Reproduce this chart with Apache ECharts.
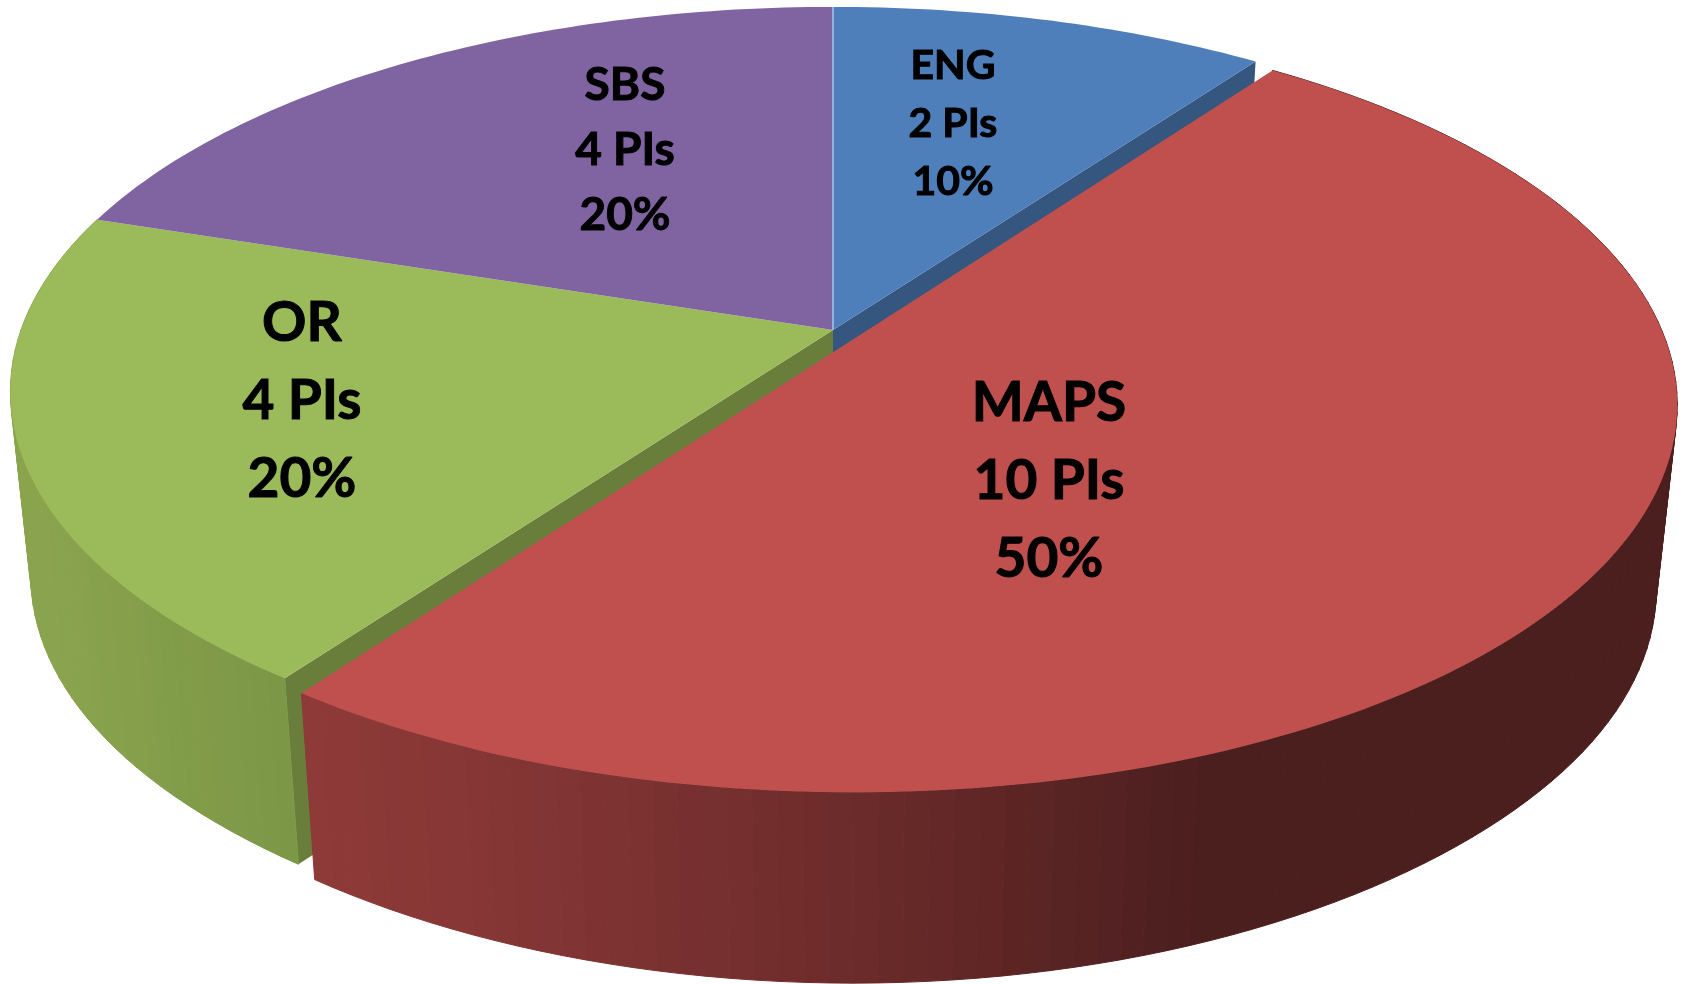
<!DOCTYPE html>
<html>
<head>
<meta charset="utf-8">
<title>PIs by directorate</title>
<style>
  html, body { margin: 0; padding: 0; background: #fff; }
  #pieId { width: 1686px; height: 984px; }
</style>
<script src="https://cdn.jsdelivr.net/npm/echarts@6/dist/echarts.min.js"></script>
</head>
<body>
<div id="pieId"></div>
<script>
// data, clockwise from twelve o'clock
var categories = ["ENG", "MAPS", "OR", "SBS"];
var piCounts = [2, 10, 4, 4];
var sharePct = [10, 50, 20, 20];

// look of each slice
var topColors = ["#4f7fba", "#bf504d", "#9bba59", "#8064a1"];
var explodeU = [0, 0.021, 0, 0];
var explodeV = [0, 0.03, 0, 0];
var labelFont = [41, 55, 55, 46];
var labelLine = [58, 78, 78, 65];
var labelAt = [[953, 124], [1049, 481], [302, 401], [625, 150]];

// perspective of the pie disc, fitted to the picture
var CX = 833, CY = 330, RX = 812, RY = 322, K = -0.16;
var DEPTH = 185, BOTTOM_SCALE = 0.975;
var total = piCounts.reduce(function (a, b) { return a + b; }, 0);

function topPoint(deg, du, dv) {
  var r = deg * Math.PI / 180;
  var u = Math.sin(r) + du, v = -Math.cos(r) + dv;
  var d = 1 + K * v;
  return [CX + RX * u / d, (CY + RY * v) / d];
}
function bottomPoint(p) {
  // wall gets a little taller toward the viewer
  var near = Math.max(0, p[1] - 600);
  return [CX + BOTTOM_SCALE * (p[0] - CX), p[1] + DEPTH + near * near * 0.00016];
}
function hex(c) {
  return [1, 3, 5].map(function (i) { return parseInt(c.substr(i, 2), 16); });
}
// colour of the side wall by screen x
function rampColor(stops, x) {
  if (x <= stops[0][0]) return stops[0][1];
  for (var i = 1; i < stops.length; i++) {
    if (x <= stops[i][0]) {
      var t = (x - stops[i - 1][0]) / (stops[i][0] - stops[i - 1][0]);
      var a = hex(stops[i - 1][1]), b = hex(stops[i][1]);
      return "rgb(" + a.map(function (n, j) { return Math.round(n + (b[j] - n) * t); }).join(",") + ")";
    }
  }
  return stops[stops.length - 1][1];
}
var wallRamps = [
  null,
  [[300, "#8f3a38"], [500, "#843635"], [800, "#702d2c"], [1000, "#5e2625"], [1200, "#4c1f1f"]],
  [[30, "#8aa44e"], [290, "#7b9646"]],
  null
];
var cutWalls = [{ at: "end", color: "#34567f" }, null, { at: "start", color: "#6a7e3c" }, null];

function renderSlice(params, api) {
  var i = params.dataIndex;
  var before = 0;
  for (var n = 0; n < i; n++) before += piCounts[n];
  var start = before / total * 360;
  var end = (before + api.value(1)) / total * 360;
  var du = explodeU[i], dv = explodeV[i];
  var children = [];

  // cut face seen behind the exploded slice
  var cut = cutWalls[i];
  if (cut) {
    var apex = [CX, CY];
    var rim = topPoint(cut.at === "end" ? end : start, du, dv);
    children.push({
      type: "polygon",
      z2: 1,
      shape: { points: [apex, rim, bottomPoint(rim), bottomPoint(apex)] },
      style: { fill: cut.color }
    });
  }

  // outer wall as thin strips so the silhouette stays closed
  var ramp = wallRamps[i];
  if (ramp) {
    for (var a = start; a < end; a += 1.5) {
      var p0 = topPoint(a, du, dv), p1 = topPoint(Math.min(a + 1.5, end), du, dv);
      var col = rampColor(ramp, (p0[0] + p1[0]) / 2);
      children.push({
        type: "polygon",
        z2: 2 + i,
        shape: { points: [p0, p1, bottomPoint(p1), bottomPoint(p0)] },
        style: { fill: col, stroke: col, lineWidth: 1 }
      });
    }
  }

  // top face
  var pts = [[CX + RX * du / (1 + K * dv), (CY + RY * dv) / (1 + K * dv)]];
  for (var b = start; b < end; b += 1) pts.push(topPoint(b, du, dv));
  pts.push(topPoint(end, du, dv));
  children.push({
    type: "polygon",
    z2: i === 1 ? 20 : 10,
    shape: { points: pts },
    style: { fill: topColors[i] }
  });

  // pale highlight on the blue slice's left edge
  if (i === 0) {
    children.push({
      type: "polyline",
      z2: 11,
      shape: { points: [[CX, CY], topPoint(0, 0, 0)] },
      style: { stroke: "#8fb3dc", lineWidth: 2, fill: null }
    });
  }

  children.push({
    type: "text",
    z2: 30,
    style: {
      x: labelAt[i][0],
      y: labelAt[i][1],
      text: api.value(0) + "\n" + api.value(1) + " PIs\n" + api.value(2) + "%",
      fill: "#000",
      stroke: "#000",
      lineWidth: 1,
      font: "bold " + labelFont[i] + "px Lato",
      lineHeight: labelLine[i],
      align: "center",
      verticalAlign: "middle"
    }
  });
  return { type: "group", children: children };
}

var myChart = echarts.init(document.getElementById("pieId"));
myChart.setOption({
  backgroundColor: "#fff",
  animation: false,
  series: [
    {
      type: "custom",
      coordinateSystem: "none",
      renderItem: renderSlice,
      silent: true,
      dimensions: ["name", "pis", "share"],
      encode: { itemName: 0 },
      data: categories.map(function (c, i) { return [c, piCounts[i], sharePct[i]]; })
    }
  ]
});
</script>
</body>
</html>
